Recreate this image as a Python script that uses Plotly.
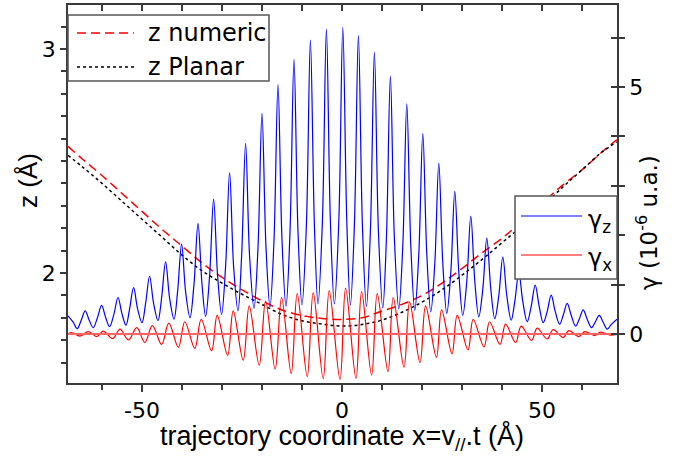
import plotly.graph_objects as go

# ---- z(x) along the trajectory (left axis, Å) ----
Z_X = [-68.5, -65, -60, -55, -50, -45, -40, -35, -30, -25, -20, -15, -10, -5, 0,
       5, 10, 15, 20, 25, 30, 35, 40, 45, 50, 55, 60, 65, 68.75]
Z_NUMERIC = [2.565, 2.51, 2.435, 2.355, 2.275, 2.195, 2.12, 2.045, 1.98, 1.925,
             1.875, 1.835, 1.81, 1.797, 1.793, 1.80, 1.83, 1.86, 1.90, 1.955,
             2.02, 2.09, 2.155, 2.23, 2.31, 2.39, 2.46, 2.54, 2.595]
Z_PLANAR = [2.525, 2.475, 2.40, 2.32, 2.24, 2.16, 2.08, 2.01, 1.955, 1.905,
            1.86, 1.815, 1.787, 1.772, 1.763, 1.77, 1.79, 1.825, 1.87, 1.925,
            1.99, 2.06, 2.135, 2.21, 2.295, 2.38, 2.46, 2.54, 2.585]

# ---- gamma_z (right axis, 1e-6 u.a.) : peak, flank, valley, flank ... ----
GZ_X = [
    -68.5, -67.2, -66.2, -65.2,
    -64.2, -63.2, -62.2, -61.1,
    -60.1, -59.1, -58.1, -57.0,
    -56.0, -55.0, -54.0, -53.1,
    -52.1, -51.1, -50.0, -49.1,
    -48.1, -47.1, -46.0, -45.1,
    -44.1, -43.1, -42.0, -41.1,
    -40.1, -39.1, -38.0, -37.0,
    -36.0, -35.0, -34.1, -33.1,
    -32.1, -31.1, -30.1, -29.1,
    -28.1, -27.1, -26.0, -25.1,
    -24.1, -23.1, -22.0, -21.0,
    -20.0, -19.0, -18.0, -17.0,
    -16.0, -15.0, -14.0, -13.0,
    -12.0, -11.0, -10.0, -8.9,
    -7.9, -6.9, -6.0, -4.9,
    -3.9, -2.9, -1.9, -0.8,
    0.2, 1.2, 2.1, 3.1,
    4.1, 5.1, 6.1, 7.1,
    8.1, 9.1, 10.2, 11.1,
    12.1, 13.1, 14.2, 15.2,
    16.2, 17.2, 18.2, 19.2,
    20.2, 21.2, 22.2, 23.2,
    24.2, 25.2, 26.2, 27.2,
    28.2, 29.2, 30.2, 31.2,
    32.2, 33.2, 34.2, 35.2,
    36.2, 37.2, 38.2, 39.2,
    40.2, 41.2, 42.3, 43.2,
    44.2, 45.2, 46.3, 47.3,
    48.3, 49.3, 50.3, 51.3,
    52.3, 53.3, 54.4, 55.3,
    56.3, 57.3, 58.4, 59.3,
    60.3, 61.3, 62.4, 63.3,
    64.3, 65.3, 66.3, 67.3,
    68.75]
GZ_Y = [
    0.37, 0.24, 0.11, 0.28,
    0.47, 0.28, 0.13, 0.34,
    0.58, 0.34, 0.15, 0.41,
    0.74, 0.41, 0.18, 0.51,
    0.94, 0.51, 0.23, 0.62,
    1.17, 0.62, 0.27, 0.73,
    1.46, 0.73, 0.30, 0.86,
    1.82, 0.86, 0.33, 1.01,
    2.24, 1.01, 0.36, 1.18,
    2.73, 1.18, 0.40, 1.37,
    3.27, 1.37, 0.47, 1.57,
    3.86, 1.57, 0.52, 1.75,
    4.47, 1.75, 0.55, 1.90,
    5.05, 1.90, 0.56, 2.07,
    5.56, 2.07, 0.59, 2.21,
    5.95, 2.21, 0.61, 2.28,
    6.17, 2.28, 0.61, 2.28,
    6.21, 2.28, 0.59, 2.21,
    6.04, 2.21, 0.56, 2.09,
    5.70, 2.09, 0.53, 1.93,
    5.22, 1.93, 0.51, 1.79,
    4.66, 1.79, 0.48, 1.62,
    4.06, 1.62, 0.45, 1.43,
    3.46, 1.43, 0.42, 1.25,
    2.89, 1.25, 0.38, 1.07,
    2.39, 1.07, 0.35, 0.91,
    1.94, 0.91, 0.31, 0.78,
    1.56, 0.78, 0.28, 0.66,
    1.24, 0.66, 0.25, 0.56,
    0.99, 0.56, 0.23, 0.46,
    0.79, 0.46, 0.20, 0.38,
    0.62, 0.38, 0.16, 0.30,
    0.49, 0.30, 0.13, 0.24,
    0.38, 0.24, 0.10, 0.19,
    0.30]

# ---- gamma_x (right axis, 1e-6 u.a.) : alternating maxima / minima ----
GX_X = [-68.5,
        -67.6, -65.5, -63.4, -61.3, -59.7, -57.3, -55.5, -53.4, -51.3, -49.3,
        -47.4, -45.1, -43.3, -40.9, -39.3, -36.8, -35.2, -32.6, -31.2, -28.6,
        -27.2, -24.7, -23.2, -20.7, -19.1, -16.7, -15.1, -12.7, -11.2, -8.7,
        -7.2, -4.7, -3.2, -0.5, 0.9, 3.5, 4.9, 7.4, 8.8, 11.5,
        12.8, 15.5, 16.9, 19.5, 20.9, 23.6, 24.9, 27.5, 28.8, 31.5,
        32.8, 35.5, 36.9, 39.5, 40.9, 43.4, 44.8, 47.4, 48.8, 51.3,
        52.8, 55.3, 56.7, 59.2, 60.7, 63.2, 64.6, 67.1,
        68.75]
GX_Y = [0.0,
        0.03, -0.04, 0.05, -0.05, 0.06, -0.09, 0.10, -0.12, 0.13, -0.17,
        0.17, -0.21, 0.22, -0.27, 0.25, -0.29, 0.30, -0.34, 0.38, -0.43,
        0.47, -0.53, 0.57, -0.63, 0.67, -0.71, 0.74, -0.80, 0.82, -0.86,
        0.84, -0.90, 0.88, -0.92, 0.93, -0.90, 0.86, -0.83, 0.82, -0.76,
        0.74, -0.67, 0.65, -0.58, 0.57, -0.47, 0.49, -0.40, 0.38, -0.32,
        0.30, -0.26, 0.25, -0.21, 0.20, -0.17, 0.16, -0.13, 0.12, -0.10,
        0.09, -0.07, 0.07, -0.05, 0.05, -0.03, 0.04, -0.02,
        0.0]

ZERO_X = [-68.5, 68.75]
ZERO_Y = [0.0, 0.0]

# ---- axes ----
X_RANGE = [-68.5, 68.75]
Z_RANGE = [1.509, 3.196]
G_RANGE = [-0.99, 6.66]
X_TICKS = [-50, 0, 50]
X_TICK_TEXT = ["-50", "0", "50"]
Z_TICKS = [2, 3]
Z_TICK_TEXT = ["2", "3"]
G_TICKS = [0, 5]
G_TICK_TEXT = ["0", "5"]

assert len(GZ_X) == len(GZ_Y) and len(GX_X) == len(GX_Y) and len(Z_X) == len(Z_NUMERIC) == len(Z_PLANAR)

FONT = "DejaVu Sans"
TITLE_FONT = "Liberation Sans"
AXIS_COLOR = "#3a3a3a"
W, H = 677, 459
L, R, T, B = 68, 60, 5, 76
PW, PH = W - L - R, H - T - B


def px(x):
    return (x - L) / PW


def py(y):
    return (H - B - y) / PH


fig = go.Figure()

fig.add_trace(go.Scatter(x=GZ_X, y=GZ_Y, yaxis="y2", mode="lines",
                         line=dict(color="#0000ff", width=1.2, shape="spline", smoothing=1.0),
                         name="γz", showlegend=False, hoverinfo="skip"))
fig.add_trace(go.Scatter(x=GX_X, y=GX_Y, yaxis="y2", mode="lines",
                         line=dict(color="#ff0000", width=1.2, shape="spline", smoothing=1.0),
                         name="γx", showlegend=False, hoverinfo="skip"))
fig.add_trace(go.Scatter(x=ZERO_X, y=ZERO_Y, yaxis="y2", mode="lines",
                         line=dict(color="#ff6464", width=2),
                         showlegend=False, hoverinfo="skip"))
fig.add_trace(go.Scatter(x=Z_X, y=Z_NUMERIC, yaxis="y", mode="lines",
                         line=dict(color="#ff0000", width=1.5, dash="9px,5px", shape="spline"),
                         name="z numeric", showlegend=False, hoverinfo="skip"))
fig.add_trace(go.Scatter(x=Z_X, y=Z_PLANAR, yaxis="y", mode="lines",
                         line=dict(color="#000000", width=1.5, dash="dot", shape="spline"),
                         name="z Planar", showlegend=False, hoverinfo="skip"))
# carriers for the top axis and the inner right ticks
fig.add_trace(go.Scatter(x=[None], y=[None], xaxis="x2", yaxis="y",
                         showlegend=False, hoverinfo="skip"))
fig.add_trace(go.Scatter(x=[None], y=[None], xaxis="x", yaxis="y3",
                         showlegend=False, hoverinfo="skip"))

tickfont = dict(family=FONT, size=22, color="black")

fig.update_layout(
    width=W, height=H,
    margin=dict(l=L, r=R, t=T, b=B),
    paper_bgcolor="white", plot_bgcolor="white",
    font=dict(family=FONT, color="black"),
    showlegend=False,
    xaxis=dict(range=X_RANGE, tickmode="array", tickvals=X_TICKS, ticktext=X_TICK_TEXT,
               ticks="outside", ticklen=7, tickwidth=1.5, tickcolor=AXIS_COLOR,
               minor=dict(dtick=10, tick0=0, ticks="outside", ticklen=5, tickwidth=1.5, tickcolor=AXIS_COLOR),
               showline=True, linecolor=AXIS_COLOR, linewidth=1.6,
               showgrid=False, zeroline=False, tickfont=tickfont),
    xaxis2=dict(range=X_RANGE, overlaying="x", side="top", anchor="y",
                tickmode="linear", tick0=0, dtick=10, ticks="inside", ticklen=6,
                tickwidth=1.5, tickcolor=AXIS_COLOR, showticklabels=False,
                showline=True, linecolor=AXIS_COLOR, linewidth=1.6,
                showgrid=False, zeroline=False),
    yaxis=dict(range=Z_RANGE, tickmode="array", tickvals=Z_TICKS, ticktext=Z_TICK_TEXT,
               ticks="outside", ticklen=6, tickwidth=1.5, tickcolor=AXIS_COLOR,
               minor=dict(dtick=0.1, tick0=0, ticks="outside", ticklen=5, tickwidth=1.5, tickcolor=AXIS_COLOR),
               showline=True, linecolor=AXIS_COLOR, linewidth=1.6,
               showgrid=False, zeroline=False, tickfont=tickfont),
    yaxis2=dict(range=G_RANGE, overlaying="y", side="right", anchor="x",
                tickmode="array", tickvals=G_TICKS, ticktext=G_TICK_TEXT,
                ticks="outside", ticklen=6, tickwidth=1.5, tickcolor=AXIS_COLOR,
                minor=dict(dtick=1, tick0=0, ticks="outside", ticklen=6, tickwidth=1.5, tickcolor=AXIS_COLOR),
                showline=True, linecolor=AXIS_COLOR, linewidth=1.6,
                showgrid=False, zeroline=False, tickfont=tickfont),
    yaxis3=dict(range=G_RANGE, overlaying="y", side="right", anchor="x",
                tickmode="linear", tick0=0, dtick=1, ticks="inside", ticklen=6,
                tickwidth=1.5, tickcolor=AXIS_COLOR, showticklabels=False,
                showline=False, showgrid=False, zeroline=False),
)

shapes = []
annotations = []

# legend for z curves (top left)
shapes.append(dict(type="rect", xref="paper", yref="paper", layer="above",
                   x0=px(68), x1=px(269), y0=py(81), y1=py(15),
                   line=dict(color="#555555", width=1.5), fillcolor="white"))
shapes.append(dict(type="line", xref="paper", yref="paper", layer="above",
                   x0=px(77), x1=px(134), y0=py(33), y1=py(33),
                   line=dict(color="#ff0000", width=1.5, dash="9px,5px")))
shapes.append(dict(type="line", xref="paper", yref="paper", layer="above",
                   x0=px(77), x1=px(137), y0=py(67), y1=py(67),
                   line=dict(color="#000000", width=1.5, dash="dot")))
annotations.append(dict(text="z numeric", xref="paper", yref="paper", x=px(146), y=py(33),
                        xanchor="left", yanchor="middle", showarrow=False,
                        font=dict(family=FONT, size=24, color="black")))
annotations.append(dict(text="z Planar", xref="paper", yref="paper", x=px(146), y=py(67),
                        xanchor="left", yanchor="middle", showarrow=False,
                        font=dict(family=FONT, size=24, color="black")))

# legend for gamma curves (right)
shapes.append(dict(type="rect", xref="paper", yref="paper", layer="above",
                   x0=px(515), x1=px(617), y0=py(279), y1=py(196),
                   line=dict(color="#555555", width=1.5), fillcolor="white"))
shapes.append(dict(type="line", xref="paper", yref="paper", layer="above",
                   x0=px(521), x1=px(582), y0=py(216), y1=py(216),
                   line=dict(color="#0000ff", width=1.2)))
shapes.append(dict(type="line", xref="paper", yref="paper", layer="above",
                   x0=px(521), x1=px(582), y0=py(255), y1=py(255),
                   line=dict(color="#ff0000", width=1.2)))
annotations.append(dict(text="γ<sub>z</sub>", xref="paper", yref="paper", x=px(586), y=py(221),
                        xanchor="left", yanchor="middle", showarrow=False,
                        font=dict(family=FONT, size=24, color="black")))
annotations.append(dict(text="γ<sub>x</sub>", xref="paper", yref="paper", x=px(586), y=py(259),
                        xanchor="left", yanchor="middle", showarrow=False,
                        font=dict(family=FONT, size=24, color="black")))

# axis titles
annotations.append(dict(text="trajectory coordinate x=v<sub>//</sub>.t (Å)", xref="paper", yref="paper",
                        x=px(342), y=py(437), xanchor="center", yanchor="middle", showarrow=False,
                        font=dict(family=TITLE_FONT, size=27, color="black")))
annotations.append(dict(text="z (Å)", xref="paper", yref="paper", textangle=-90,
                        x=px(28), y=py(180), xanchor="center", yanchor="middle", showarrow=False,
                        font=dict(family=TITLE_FONT, size=26, color="black")))
annotations.append(dict(text="γ (10<sup>-6</sup> u.a.)", xref="paper", yref="paper", textangle=-90,
                        x=px(647), y=py(223), xanchor="center", yanchor="middle", showarrow=False,
                        font=dict(family=FONT, size=23, color="black")))

fig.update_layout(shapes=shapes, annotations=annotations)

fig.write_html("out.html")
